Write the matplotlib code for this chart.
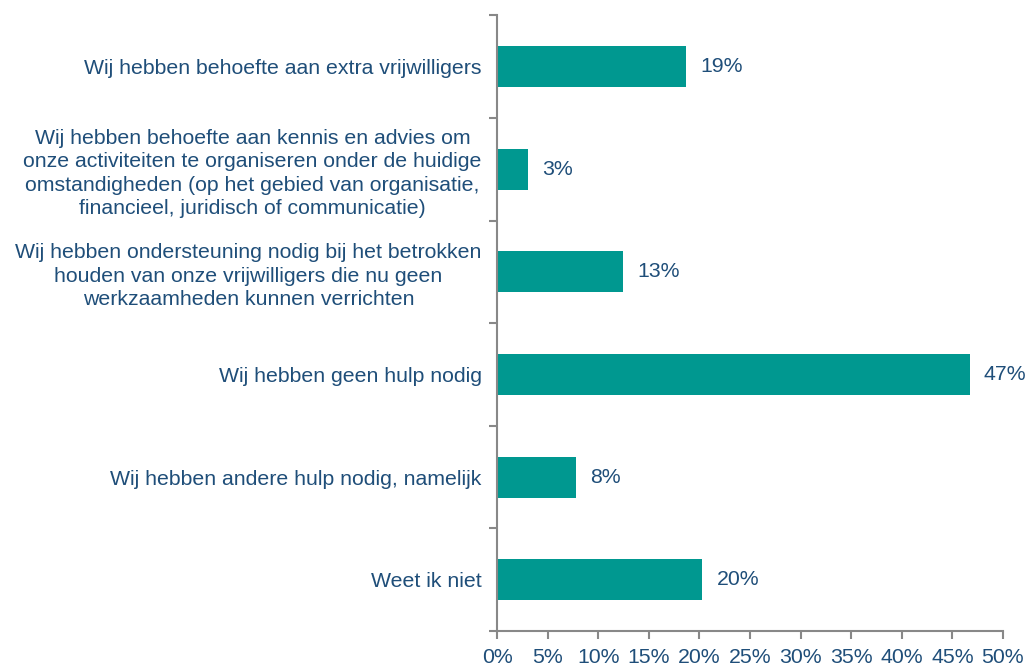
import numpy as np
import matplotlib
matplotlib.use("Agg")
import matplotlib.pyplot as plt

plt.rcParams['font.family'] = ['Liberation Sans', 'DejaVu Sans']

categories = [
    "Wij hebben behoefte aan extra vrijwilligers",
    "Wij hebben behoefte aan kennis en advies om\nonze activiteiten te organiseren onder de huidige\nomstandigheden (op het gebied van organisatie,\nfinancieel, juridisch of communicatie)",
    "Wij hebben ondersteuning nodig bij het betrokken\nhouden van onze vrijwilligers die nu geen\nwerkzaamheden kunnen verrichten",
    "Wij hebben geen hulp nodig",
    "Wij hebben andere hulp nodig, namelijk",
    "Weet ik niet",
]
values = [18.7, 3.1, 12.5, 46.7, 7.8, 20.3]
value_labels = ["19%", "3%", "13%", "47%", "8%", "20%"]

bar_color = "#009890"
text_color = "#1F4E79"
axis_color = "#888888"
fs = 15.3

fig = plt.figure(figsize=(10.29, 6.65), dpi=100)
ax = fig.add_axes([0.483, 0.051, 0.4917, 0.926])

y = np.arange(len(categories))
ax.barh(y, values, height=0.4, color=bar_color)
ax.set_ylim(len(categories) - 0.5, -0.5)
ax.set_xlim(0, 50)

for yi, v, lab in zip(y, values, value_labels):
    ax.text(v + 1.4, yi, lab, va='center', ha='left', fontsize=fs, color=text_color)

# category labels at bar centers, tick marks at boundaries
ax.set_yticks(np.arange(len(categories) + 1) - 0.5)
ax.set_yticklabels([])
ax.set_yticks(y, minor=True)
ax.set_yticklabels(categories, minor=True, fontsize=fs, color=text_color,
                   multialignment='center', linespacing=1.3)
ax.tick_params(axis='y', which='minor', length=0, pad=11)
ax.tick_params(axis='y', which='major', length=6, width=1.5, color=axis_color, direction='out')

ax.set_xticks(np.arange(0, 51, 5))
ax.set_xticklabels([f"{t}%" for t in range(0, 51, 5)], fontsize=fs, color=text_color)
ax.tick_params(axis='x', length=6, width=1.5, color=axis_color, pad=6)

for s in ['top', 'right']:
    ax.spines[s].set_visible(False)
for s in ['left', 'bottom']:
    ax.spines[s].set_color(axis_color)
    ax.spines[s].set_linewidth(1.5)

fig.savefig("out.png", dpi=100)
